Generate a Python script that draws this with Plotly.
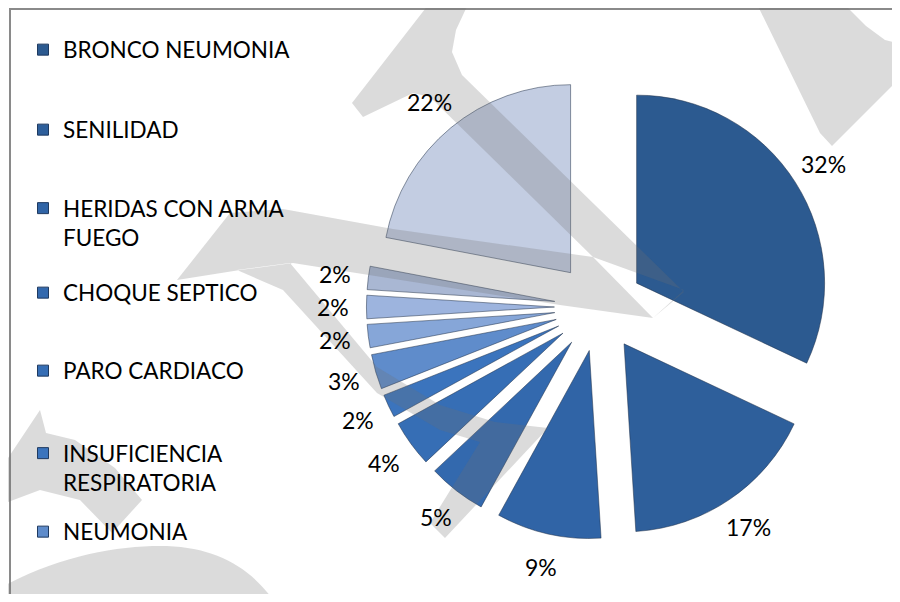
import math
import plotly.graph_objects as go

# ---------------- data ----------------
labels = ["BRONCO NEUMONIA", "SENILIDAD", "HERIDAS CON ARMA FUEGO", "CHOQUE SEPTICO",
          "PARO CARDIACO", "INSUFICIENCIA RESPIRATORIA", "NEUMONIA",
          "OTRA CAUSA 1", "OTRA CAUSA 2", "OTRA CAUSA 3", "OTRA CAUSA 4"]
values = [32, 17, 9, 5, 4, 2, 3, 2, 2, 2, 22]
legend_labels = ["BRONCO NEUMONIA", "SENILIDAD", "HERIDAS CON ARMA<br>FUEGO", "CHOQUE SEPTICO",
                 "PARO CARDIACO", "INSUFICIENCIA<br>RESPIRATORIA", "NEUMONIA"]

# ---------------- styles ----------------
slice_colors = ["#2C5A90", "#2E5F9B", "#3064A6", "#3369AE", "#366EB5", "#3B74BD",
                "#5F8CCB", "#86A6D8", "#9DB4DE", "#A9B7D3", "#C3CDE2"]
FONT = "Lato, 'Open Sans', sans-serif"
LEG_FS = 22.5
LAB_FS = 23
# the page body adds an 8px margin, so the figure is sized to fit the window
OFF = 8
W, H = 900 - 2 * OFF, 602 - 2 * OFF
CX, CY = 599, 307          # pie centre (window pixels)
PULL = 0.237
HALF = 188 * (1 + PULL)    # half size of the pie box
LABEL_R = 266              # distance of the percentage labels from the centre


def xp(x):
    return (x - OFF) / W


def yp(y):
    return 1 - (y - OFF) / H


fig = go.Figure()

fig.add_trace(go.Pie(
    labels=labels, values=values, sort=False, direction="clockwise", rotation=0,
    pull=PULL, marker=dict(colors=slice_colors, line=dict(color="rgba(30,45,70,0.5)", width=1)),
    textinfo="none", textposition="none",
    domain=dict(x=[xp(CX - HALF), xp(CX + HALF)], y=[yp(CY + HALF), yp(CY - HALF)]),
    showlegend=False, hoverinfo="label+percent",
))

# percentage labels, placed on each slice's bisector (computed from the values)
annotations = []
total = sum(values)
cum = 0
for v in values:
    mid = (cum + v / 2) / total * 2 * math.pi
    cum += v
    annotations.append(dict(
        x=xp(CX + LABEL_R * math.sin(mid)), y=yp(CY - LABEL_R * math.cos(mid)),
        xref="paper", yref="paper", xanchor="center", yanchor="middle",
        text=f"{round(v / total * 100)}%", showarrow=False,
        font=dict(family=FONT, size=LAB_FS, color="#000000"),
    ))

# legend entries (one legend box per entry, to reproduce the spaced Excel legend)
legend_y_px = [50, 130, 223, 293, 371, 468, 532]
for i, name in enumerate(legend_labels):
    key = "legend" if i == 0 else f"legend{i + 1}"
    fig.add_trace(go.Scatter(
        x=[None], y=[None], mode="markers", name=name, legend=key,
        marker=dict(symbol="square", size=11, color=slice_colors[i],
                    line=dict(color="#1F3A60", width=1)),
        showlegend=True, hoverinfo="skip",
    ))
    fig.update_layout({key: dict(
        x=xp(23), y=yp(legend_y_px[i]), xanchor="left", yanchor="middle",
        font=dict(family=FONT, size=LEG_FS, color="#000000"), bgcolor="rgba(0,0,0,0)",
        valign="top", itemclick=False, itemdoubleclick=False,
    )})

# ---------------- decorations (border + watermark) ----------------
def pt(x, y):
    return f"{xp(x):.5f},{yp(y):.5f}"


def poly(pts):
    return "M" + " L".join(pt(x, y) for x, y in pts) + " Z"


wm_polys = [
    [(432, 0), (470, 0), (456, 30), (452, 52), (462, 75), (684, 292), (653, 318), (593, 257),
     (430, 97), (413, 93), (363, 117), (352, 103)],
    [(177, 280), (230, 213), (283, 209), (393, 229), (593, 257), (684, 290), (653, 318),
     (560, 305), (293, 263), (240, 270)],
    [(237, 270), (290, 263), (377, 367), (440, 405), (495, 422), (548, 428), (445, 538),
     (430, 523), (480, 442), (440, 430), (377, 393), (283, 290)],
    [(755, 0), (840, 0), (866, 26), (885, 40), (905, 45), (905, 73), (832, 146), (820, 133)],
    [(0, 470), (40, 410), (46, 433), (75, 440), (115, 468), (142, 500), (112, 533), (80, 500),
     (40, 490), (0, 505)],
]
wm_path = " ".join(poly(p) for p in wm_polys)
wm_path += (" M" + pt(0, 588) + " C" + pt(60, 555) + " " + pt(120, 545) + " " + pt(167, 546)
            + " C" + pt(220, 548) + " " + pt(255, 570) + " " + pt(280, 610)
            + " L" + pt(0, 610) + " Z")

shapes = [
    dict(type="rect", xref="paper", yref="paper", x0=xp(10), x1=xp(915), y0=yp(620), y1=yp(9),
         line=dict(color="#8A8A8A", width=2), fillcolor="rgba(0,0,0,0)", layer="below"),
    dict(type="path", xref="paper", yref="paper", path=wm_path, fillcolor="rgb(110,110,110)",
         opacity=0.25, line=dict(width=0), layer="above"),
]

fig.update_layout(
    width=W, height=H, margin=dict(l=0, r=0, t=0, b=0, pad=0, autoexpand=False),
    paper_bgcolor="#FFFFFF", plot_bgcolor="rgba(0,0,0,0)",
    xaxis=dict(visible=False), yaxis=dict(visible=False),
    shapes=shapes, annotations=annotations, font=dict(family=FONT),
)

fig.write_html("out.html")
